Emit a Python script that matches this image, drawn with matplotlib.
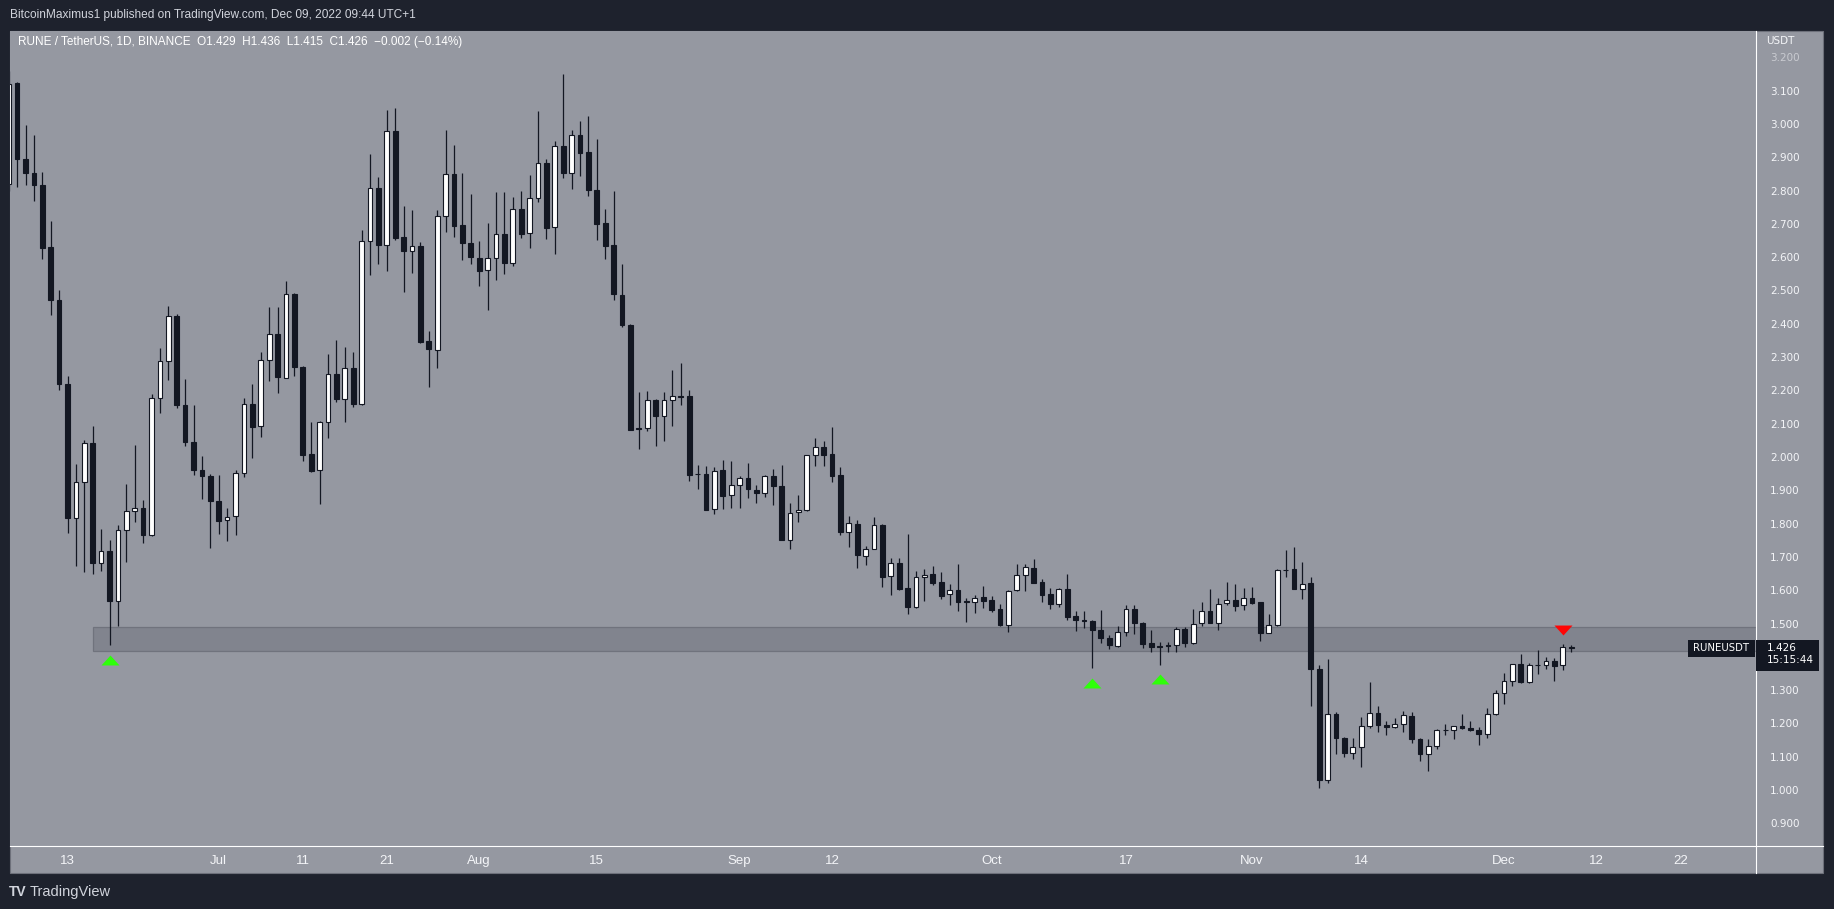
import numpy as np
import pandas as pd
import matplotlib
matplotlib.use('Agg')
import matplotlib.pyplot as plt
import matplotlib.dates as mdates
from matplotlib.patches import Rectangle
from matplotlib.lines import Line2D
from matplotlib.transforms import Affine2D

# daily RUNE/USDT candles, Jun 6 - Dec 9 2022
dates = pd.date_range('2022-06-06', '2022-12-09', freq='D')

opens = [
    2.820, 3.122, 2.894, 2.852, 2.816, 2.630, 2.472, 2.220, 1.818, 1.924,
    2.042, 1.681, 1.717, 1.569, 1.780, 1.837, 1.847, 1.767, 2.177, 2.288,
    2.423, 2.156, 2.045, 1.961, 1.944,
    1.868, 1.810, 1.822, 1.951, 2.159, 2.093, 2.292, 2.369, 2.238, 2.489,
    2.270, 2.009, 1.960, 2.104, 2.250, 2.173, 2.267, 2.159, 2.648, 2.807,
    2.636, 2.978, 2.660, 2.618, 2.633, 2.349, 2.321, 2.723, 2.849, 2.697,
    2.643,
    2.598, 2.561, 2.597, 2.670, 2.582, 2.744, 2.672, 2.777, 2.882, 2.690,
    2.933, 2.854, 2.966, 2.915, 2.801, 2.702, 2.636, 2.486, 2.396, 2.086,
    2.088, 2.170, 2.124, 2.170, 2.182, 2.182, 1.948, 1.948, 1.843, 1.960,
    1.887,
    1.916, 1.937, 1.901, 1.892, 1.942, 1.912, 1.752, 1.835, 1.842, 2.006,
    2.030, 2.009, 1.946, 1.776, 1.799, 1.704, 1.725, 1.796, 1.644, 1.683,
    1.606, 1.551, 1.641, 1.648, 1.625, 1.588, 1.600, 1.567, 1.564, 1.579,
    1.571, 1.544, 1.497, 1.600, 1.645, 1.667, 1.625, 1.588, 1.558, 1.603,
    1.522, 1.510, 1.507, 1.480, 1.457, 1.431, 1.476, 1.544, 1.503, 1.440,
    1.431, 1.434, 1.434, 1.483, 1.440, 1.501, 1.537, 1.503, 1.561, 1.570,
    1.555,
    1.576, 1.564, 1.473, 1.495, 1.662, 1.663, 1.605, 1.621, 1.363, 1.029,
    1.228, 1.156, 1.110, 1.129, 1.191, 1.231, 1.195, 1.188, 1.197, 1.222,
    1.154, 1.107, 1.131, 1.180, 1.180, 1.191, 1.186, 1.180, 1.167, 1.228,
    1.292, 1.326, 1.378, 1.323, 1.375, 1.375, 1.387, 1.375, 1.429,
]
highs = [
    3.160, 3.126, 2.997, 2.967, 2.856, 2.709, 2.502, 2.244, 1.979, 2.051,
    2.093, 1.784, 1.751, 1.796, 1.919, 2.036, 1.871, 2.189, 2.328, 2.454,
    2.430, 2.235, 2.157, 2.004, 1.949,
    1.946, 1.847, 1.961, 2.176, 2.220, 2.316, 2.451, 2.451, 2.529, 2.493,
    2.272, 2.105, 2.108, 2.310, 2.352, 2.331, 2.316, 2.682, 2.909, 2.841,
    3.042, 3.047, 2.754, 2.742, 2.645, 2.379, 2.741, 2.982, 2.937, 2.853,
    2.790,
    2.649, 2.703, 2.796, 2.796, 2.781, 2.799, 2.847, 3.039, 2.895, 2.949,
    3.150, 2.982, 3.009, 3.024, 2.955, 2.745, 2.799, 2.580, 2.398, 2.195,
    2.198, 2.173, 2.195, 2.261, 2.282, 2.200, 1.975, 1.972, 1.969, 1.991,
    1.988,
    1.943, 1.982, 1.916, 1.945, 1.963, 1.975, 1.861, 1.886, 2.007, 2.058,
    2.048, 2.090, 1.969, 1.823, 1.811, 1.733, 1.820, 1.798, 1.697, 1.697,
    1.769, 1.658, 1.664, 1.673, 1.655, 1.619, 1.679, 1.576, 1.586, 1.613,
    1.583, 1.559, 1.600, 1.679, 1.679, 1.694, 1.634, 1.607, 1.607, 1.649,
    1.537, 1.537, 1.510, 1.540, 1.467, 1.492, 1.557, 1.557, 1.506, 1.482,
    1.444, 1.444, 1.489, 1.489, 1.544, 1.564, 1.603, 1.576, 1.625, 1.619,
    1.607,
    1.609, 1.566, 1.528, 1.663, 1.720, 1.729, 1.684, 1.639, 1.375, 1.393,
    1.234, 1.159, 1.156, 1.219, 1.325, 1.252, 1.207, 1.216, 1.237, 1.234,
    1.157, 1.152, 1.183, 1.199, 1.192, 1.228, 1.207, 1.188, 1.246, 1.301,
    1.350, 1.378, 1.407, 1.381, 1.420, 1.400, 1.396, 1.438, 1.436,
]
lows = [
    2.800, 2.812, 2.817, 2.770, 2.595, 2.427, 2.202, 1.773, 1.674, 1.656,
    1.650, 1.659, 1.434, 1.494, 1.686, 1.806, 1.743, 1.764, 2.131, 2.230,
    2.147, 2.032, 1.947, 1.873, 1.728,
    1.770, 1.749, 1.767, 1.939, 1.998, 2.059, 2.227, 2.191, 2.236, 2.243,
    1.988, 1.956, 1.859, 2.058, 2.165, 2.106, 2.149, 2.155, 2.545, 2.578,
    2.557, 2.650, 2.494, 2.551, 2.343, 2.209, 2.266, 2.676, 2.659, 2.590,
    2.578,
    2.512, 2.440, 2.530, 2.548, 2.572, 2.656, 2.626, 2.767, 2.653, 2.608,
    2.837, 2.806, 2.845, 2.785, 2.650, 2.593, 2.470, 2.389, 2.080, 2.025,
    2.079, 2.034, 2.049, 2.094, 2.157, 1.929, 1.905, 1.840, 1.830, 1.845,
    1.848,
    1.848, 1.878, 1.863, 1.881, 1.857, 1.750, 1.725, 1.806, 1.839, 1.974,
    1.974, 1.926, 1.767, 1.731, 1.668, 1.677, 1.723, 1.611, 1.587, 1.600,
    1.530, 1.548, 1.569, 1.617, 1.574, 1.557, 1.539, 1.506, 1.533, 1.547,
    1.536, 1.493, 1.476, 1.598, 1.599, 1.621, 1.566, 1.545, 1.551, 1.512,
    1.479, 1.488, 1.367, 1.440, 1.424, 1.430, 1.464, 1.469, 1.427, 1.415,
    1.374, 1.413, 1.413, 1.428, 1.437, 1.494, 1.501, 1.482, 1.557, 1.539,
    1.542,
    1.559, 1.449, 1.471, 1.493, 1.641, 1.603, 1.575, 1.253, 1.005, 1.020,
    1.107, 1.098, 1.092, 1.070, 1.185, 1.173, 1.164, 1.185, 1.173, 1.140,
    1.086, 1.056, 1.122, 1.166, 1.152, 1.182, 1.176, 1.134, 1.155, 1.226,
    1.258, 1.311, 1.320, 1.322, 1.347, 1.362, 1.326, 1.359, 1.415,
]
closes = [
    3.120, 2.894, 2.852, 2.818, 2.626, 2.470, 2.219, 1.818, 1.924, 2.042,
    1.681, 1.717, 1.569, 1.780, 1.837, 1.846, 1.767, 2.176, 2.288, 2.423,
    2.155, 2.044, 1.960, 1.942, 1.867,
    1.809, 1.819, 1.951, 2.158, 2.091, 2.292, 2.369, 2.239, 2.488, 2.271,
    2.006, 1.959, 2.104, 2.249, 2.173, 2.267, 2.158, 2.648, 2.807, 2.635,
    2.978, 2.656, 2.617, 2.632, 2.346, 2.323, 2.723, 2.849, 2.695, 2.641,
    2.599,
    2.557, 2.597, 2.670, 2.581, 2.744, 2.671, 2.777, 2.882, 2.689, 2.933,
    2.854, 2.966, 2.914, 2.801, 2.701, 2.632, 2.488, 2.395, 2.082, 2.083,
    2.170, 2.124, 2.170, 2.182, 2.181, 1.947, 1.949, 1.842, 1.959, 1.884,
    1.915,
    1.937, 1.903, 1.892, 1.943, 1.912, 1.752, 1.831, 1.841, 2.005, 2.030,
    2.007, 1.944, 1.776, 1.801, 1.707, 1.723, 1.795, 1.641, 1.683, 1.605,
    1.551, 1.639, 1.647, 1.623, 1.584, 1.600, 1.566, 1.566, 1.578, 1.569,
    1.542, 1.496, 1.599, 1.645, 1.669, 1.623, 1.587, 1.558, 1.603, 1.521,
    1.512, 1.508, 1.482, 1.458, 1.434, 1.476, 1.544, 1.502, 1.439, 1.428,
    1.430, 1.433, 1.483, 1.440, 1.500, 1.537, 1.503, 1.560, 1.570, 1.554,
    1.576,
    1.561, 1.473, 1.495, 1.660, 1.661, 1.605, 1.620, 1.362, 1.029, 1.228,
    1.155, 1.110, 1.129, 1.191, 1.231, 1.194, 1.188, 1.197, 1.225, 1.152,
    1.107, 1.131, 1.180, 1.181, 1.191, 1.185, 1.179, 1.167, 1.228, 1.292,
    1.326, 1.378, 1.323, 1.375, 1.376, 1.386, 1.372, 1.428, 1.426,
]

# support zone and signal arrows
zone_low, zone_high = 1.4165, 1.490
zone_start = '2022-06-16'
buy_dates = ['2022-06-18', '2022-10-13', '2022-10-21']
buy_prices = [1.390, 1.320, 1.332]
sell_dates = ['2022-12-08']
sell_prices = [1.480]

# 1.400 sits under the last-price tag in the reference, so it is not listed
price_ticks = [0.9, 1.0, 1.1, 1.2, 1.3, 1.5, 1.6, 1.7, 1.8, 1.9, 2.0,
               2.1, 2.2, 2.3, 2.4, 2.5, 2.6, 2.7, 2.8, 2.9, 3.0, 3.1, 3.2]
date_ticks = ['2022-06-13', '2022-07-01', '2022-07-11', '2022-07-21', '2022-08-01',
              '2022-08-15', '2022-09-01', '2022-09-12', '2022-10-01', '2022-10-17',
              '2022-11-01', '2022-11-14', '2022-12-01', '2022-12-12', '2022-12-22']
date_labels = ['13', 'Jul', '11', '21', 'Aug', '15', 'Sep', '12', 'Oct', '17',
               'Nov', '14', 'Dec', '12', '22']

W, H = 1834, 909
BG = '#1e222d'
PANEL = '#9598a1'
DARK = '#131722'
ZONE = '#81848e'
NARROW = ['Liberation Sans', 'DejaVu Sans']
SANS = ['DejaVu Sans']

fig = plt.figure(figsize=(W / 100, H / 100), dpi=100, facecolor=BG)
px = Affine2D().scale(1, -1).translate(0, H)  # image pixel coords, y down

fig.patches.append(Rectangle((10, 31), 1813, 842, transform=px, facecolor=PANEL,
                             edgecolor='#6d707a', lw=0.8, zorder=-5))

ax = fig.add_axes([10 / W, (H - 846) / H, 1746 / W, 815 / H])
ax.set_facecolor(PANEL)
for s in ax.spines.values():
    s.set_visible(False)

x = mdates.date2num(dates)
o = np.array(opens)
hi = np.array(highs)
lo = np.array(lows)
c = np.array(closes)
up = c >= o

ax.vlines(x, lo, hi, color=DARK, lw=0.9, zorder=3)
ax.bar(x, np.abs(c - o), bottom=np.minimum(o, c), width=0.56,
       color=np.where(up, 'white', DARK), edgecolor=DARK, linewidth=0.8, zorder=4)

# support zone
z0 = mdates.date2num(pd.Timestamp(zone_start))
ax.add_patch(Rectangle((z0, zone_low), 400, zone_high - zone_low, facecolor=ZONE,
                       edgecolor='#70737d', lw=0.9, zorder=1))

tri_up = [(-1, -0.55), (1, -0.55), (0, 0.55), (-1, -0.55)]
tri_dn = [(-1, 0.55), (1, 0.55), (0, -0.55), (-1, 0.55)]
ax.plot(mdates.date2num(pd.to_datetime(buy_dates)), buy_prices, ls='none',
        marker=tri_up, ms=13, color='#2eff0a', mew=0, zorder=6)
ax.plot(mdates.date2num(pd.to_datetime(sell_dates)), sell_prices, ls='none',
        marker=tri_dn, ms=13, color='#ff0505', mew=0, zorder=6)

ax.set_xlim(mdates.date2num(pd.Timestamp('2022-06-06')) + 0.15,
            mdates.date2num(pd.Timestamp('2022-12-31')))
ax.set_ylim(0.832, 3.279)

ax.yaxis.tick_right()
ax.set_yticks(price_ticks)
ax.set_yticklabels(['%.3f' % p for p in price_ticks], family=SANS)
ax.tick_params(axis='y', length=0, pad=10, labelsize=7.5, labelcolor='#f4f5f8')
ax.get_yticklabels()[-1].set_alpha(0.55)

ax.set_xticks(mdates.date2num(pd.to_datetime(date_ticks)))
ax.set_xticklabels(date_labels, family=NARROW)
ax.tick_params(axis='x', length=0, pad=6.5, labelsize=9.5, labelcolor='#f4f5f8')

# axis lines
fig.add_artist(Line2D([1756, 1756], [31, 873], transform=px, color='white', lw=0.8))
fig.add_artist(Line2D([10, 1823], [846, 846], transform=px, color='white', lw=0.8))

fig.text(1766.5, 41, 'USDT', transform=px, color='#f4f5f8', fontsize=7.5,
         family=SANS, va='center', ha='left')

# header and legend
fig.text(10, 15, 'BitcoinMaximus1 published on TradingView.com, Dec 09, 2022 09:44 UTC+1',
         transform=px, color='#d1d4dc', fontsize=8.6, family=NARROW, va='center')
fig.text(18, 42, 'RUNE / TetherUS, 1D, BINANCE  O1.429  H1.436  L1.415  C1.426  \u22120.002 (\u22120.14%)',
         transform=px, color='white', fontsize=8.5, family=NARROW, va='center')

# last price tags
fig.canvas.draw()
yc = H - ax.transData.transform((x[-1], closes[-1]))[1]
fig.patches.append(Rectangle((1688, yc - 8), 67, 16.7, transform=px, facecolor=DARK,
                             edgecolor='none', zorder=5))
fig.text(1721.5, yc, 'RUNEUSDT', transform=px, color='white', fontsize=7.3,
         family=SANS, ha='center', va='center', zorder=6)
fig.patches.append(Rectangle((1756, yc - 8), 63, 30.7, transform=px, facecolor=DARK,
                             edgecolor='none', zorder=5))
fig.text(1766.5, yc - 5.5, '%.3f\n15:15:44' % closes[-1], transform=px, color='white',
         fontsize=7.5, family=SANS, ha='left', va='top', linespacing=1.25, zorder=6)

# TradingView footer
fig.text(9, 892, 'TV', transform=px, color='#d1d4dc', fontsize=10, weight='bold',
         family=NARROW, va='center')
fig.text(30, 892, 'TradingView', transform=px, color='#d1d4dc', fontsize=10.5,
         family=NARROW, va='center')

fig.savefig('out.png', dpi=100, facecolor=BG)
